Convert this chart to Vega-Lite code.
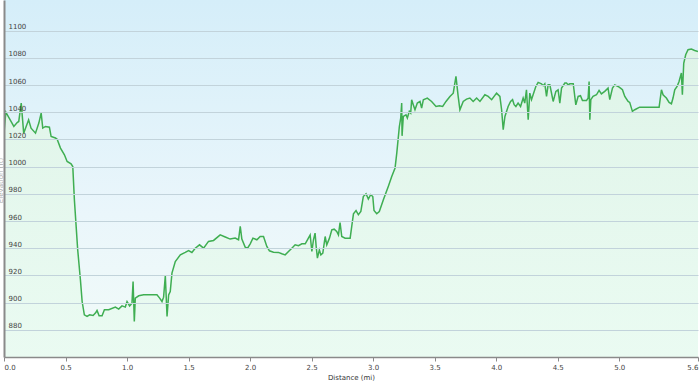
{
  "$schema": "https://vega.github.io/schema/vega-lite/v6.json",
  "autosize": {"type": "none"},
  "width": 694,
  "height": 357,
  "padding": {"left": 4, "top": 0, "right": 2, "bottom": 25},
  "background": "white",
  "config": {
    "font": "DejaVu Sans",
    "view": {
      "stroke": null,
      "fill": {"gradient": "linear", "x1": 0, "y1": 0, "x2": 0, "y2": 1,
        "stops": [{"offset": 0, "color": "#d5eef9"}, {"offset": 0.6, "color": "#eaf6fb"}, {"offset": 1, "color": "#f2fbf8"}]}
    }
  },
  "data": {"values": [
    {"d":0,"e":1024.8},{"d":0.015,"e":1040},{"d":0.08,"e":1029.5},{"d":0.107,"e":1032.4},{"d":0.12,"e":1033.2},{"d":0.14,"e":1046.7},{"d":0.16,"e":1024.6},{"d":0.2,"e":1034.4},{"d":0.22,"e":1028.2},{"d":0.256,"e":1024.6},{"d":0.283,"e":1032},{"d":0.302,"e":1039.3},{"d":0.315,"e":1028.3},{"d":0.337,"e":1029.5},{"d":0.369,"e":1029},{"d":0.383,"e":1022.1},{"d":0.418,"e":1021},{"d":0.432,"e":1020.2},{"d":0.459,"e":1013.6},{"d":0.491,"e":1008.7},{"d":0.513,"e":1003.8},{"d":0.545,"e":1002},{"d":0.559,"e":1000.1},{"d":0.572,"e":975.6},{"d":0.599,"e":938.8},{"d":0.621,"e":916.8},{"d":0.635,"e":900.8},{"d":0.653,"e":891},{"d":0.675,"e":889.8},{"d":0.696,"e":891},{"d":0.724,"e":890.5},{"d":0.743,"e":892.3},{"d":0.756,"e":894.2},{"d":0.773,"e":890.3},{"d":0.797,"e":890.3},{"d":0.816,"e":894.7},{"d":0.851,"e":894.7},{"d":0.905,"e":896.7},{"d":0.932,"e":895.2},{"d":0.959,"e":897.6},{"d":0.986,"e":896.7},{"d":1.0,"e":900.8},{"d":1.021,"e":897.6},{"d":1.04,"e":899.6},{"d":1.049,"e":915.5},{"d":1.059,"e":886.1},{"d":1.067,"e":903.3},{"d":1.095,"e":905},{"d":1.135,"e":905.7},{"d":1.189,"e":905.7},{"d":1.243,"e":905.7},{"d":1.265,"e":903.3},{"d":1.284,"e":900.8},{"d":1.297,"e":904},{"d":1.311,"e":919.7},{"d":1.325,"e":889.8},{"d":1.338,"e":905.7},{"d":1.351,"e":908.2},{"d":1.365,"e":921.7},{"d":1.392,"e":930.2},{"d":1.433,"e":935.1},{"d":1.473,"e":936.9},{"d":1.5,"e":938.3},{"d":1.527,"e":936.9},{"d":1.554,"e":940},{"d":1.589,"e":942.5},{"d":1.622,"e":940},{"d":1.662,"e":945},{"d":1.703,"e":945.7},{"d":1.757,"e":949.8},{"d":1.798,"e":948.2},{"d":1.838,"e":946.7},{"d":1.879,"e":947.4},{"d":1.906,"e":946.2},{"d":1.92,"e":956},{"d":1.933,"e":946.7},{"d":1.96,"e":940.8},{"d":1.979,"e":940},{"d":2.001,"e":943.2},{"d":2.023,"e":947.4},{"d":2.055,"e":946.2},{"d":2.082,"e":948.6},{"d":2.109,"e":948.6},{"d":2.136,"e":941.3},{"d":2.157,"e":938.1},{"d":2.19,"e":937.1},{"d":2.23,"e":936.9},{"d":2.258,"e":935.9},{"d":2.285,"e":935.1},{"d":2.312,"e":937.6},{"d":2.339,"e":940},{"d":2.366,"e":942.5},{"d":2.393,"e":941.8},{"d":2.421,"e":943.2},{"d":2.448,"e":943.2},{"d":2.466,"e":946.2},{"d":2.488,"e":949.8},{"d":2.502,"e":937.6},{"d":2.515,"e":946.2},{"d":2.528,"e":951.1},{"d":2.537,"e":941.3},{"d":2.547,"e":932.7},{"d":2.563,"e":938.8},{"d":2.575,"e":935.1},{"d":2.591,"e":936.4},{"d":2.61,"e":948.6},{"d":2.623,"e":942.5},{"d":2.645,"e":947.4},{"d":2.664,"e":953.5},{"d":2.683,"e":954},{"d":2.704,"e":952.3},{"d":2.718,"e":949.8},{"d":2.731,"e":958.9},{"d":2.745,"e":948.6},{"d":2.772,"e":947.4},{"d":2.813,"e":947.4},{"d":2.826,"e":956},{"d":2.84,"e":965.3},{"d":2.861,"e":967.7},{"d":2.88,"e":964.6},{"d":2.9,"e":967},{"d":2.92,"e":978},{"d":2.942,"e":980},{"d":2.961,"e":976.1},{"d":2.98,"e":979.3},{"d":2.997,"e":978},{"d":3.007,"e":967.7},{"d":3.029,"e":965.3},{"d":3.05,"e":967},{"d":3.083,"e":975.6},{"d":3.123,"e":985.4},{"d":3.151,"e":992.7},{"d":3.178,"e":998.9},{"d":3.192,"e":1009.9},{"d":3.213,"e":1029.5},{"d":3.224,"e":1035.7},{"d":3.232,"e":1046.7},{"d":3.235,"e":1022.6},{"d":3.245,"e":1036.9},{"d":3.267,"e":1038.1},{"d":3.278,"e":1035.7},{"d":3.294,"e":1040.6},{"d":3.305,"e":1039.4},{"d":3.313,"e":1049.2},{"d":3.326,"e":1045.5},{"d":3.34,"e":1041.8},{"d":3.359,"e":1046.7},{"d":3.381,"e":1047.9},{"d":3.394,"e":1043},{"d":3.408,"e":1049.2},{"d":3.44,"e":1050.4},{"d":3.475,"e":1047.9},{"d":3.511,"e":1044.2},{"d":3.538,"e":1044.7},{"d":3.565,"e":1044.2},{"d":3.592,"e":1047.9},{"d":3.624,"e":1051.6},{"d":3.651,"e":1054},{"d":3.673,"e":1066.3},{"d":3.691,"e":1051.6},{"d":3.705,"e":1041.8},{"d":3.732,"e":1047.9},{"d":3.759,"e":1049.6},{"d":3.786,"e":1050.4},{"d":3.813,"e":1047.9},{"d":3.841,"e":1050.4},{"d":3.868,"e":1047.9},{"d":3.908,"e":1052.8},{"d":3.935,"e":1051.6},{"d":3.963,"e":1049.2},{"d":4.003,"e":1054},{"d":4.03,"e":1051.6},{"d":4.044,"e":1041.8},{"d":4.057,"e":1027.1},{"d":4.071,"e":1036.9},{"d":4.097,"e":1044.2},{"d":4.117,"e":1047.9},{"d":4.133,"e":1049.2},{"d":4.146,"e":1045.5},{"d":4.16,"e":1044.2},{"d":4.178,"e":1046.7},{"d":4.198,"e":1044.2},{"d":4.219,"e":1050.4},{"d":4.232,"e":1046.7},{"d":4.246,"e":1056.5},{"d":4.26,"e":1034.4},{"d":4.273,"e":1054},{"d":4.287,"e":1049.2},{"d":4.3,"e":1052.8},{"d":4.322,"e":1058.9},{"d":4.341,"e":1061.9},{"d":4.368,"e":1060.9},{"d":4.382,"e":1059.5},{"d":4.395,"e":1060.9},{"d":4.409,"e":1051.6},{"d":4.422,"e":1060.1},{"d":4.436,"e":1060.1},{"d":4.463,"e":1047.9},{"d":4.485,"e":1055.3},{"d":4.503,"e":1056.5},{"d":4.517,"e":1046.7},{"d":4.531,"e":1057.7},{"d":4.558,"e":1061.4},{"d":4.571,"e":1061.4},{"d":4.585,"e":1060.1},{"d":4.598,"e":1060.9},{"d":4.626,"e":1060.9},{"d":4.647,"e":1045.4},{"d":4.666,"e":1051.6},{"d":4.685,"e":1052.1},{"d":4.701,"e":1048.6},{"d":4.734,"e":1048.6},{"d":4.747,"e":1050.4},{"d":4.755,"e":1062.6},{"d":4.761,"e":1034.4},{"d":4.769,"e":1049.2},{"d":4.787,"e":1051.6},{"d":4.815,"e":1052.8},{"d":4.836,"e":1056},{"d":4.855,"e":1053.5},{"d":4.882,"e":1055.3},{"d":4.909,"e":1057.7},{"d":4.923,"e":1049.2},{"d":4.945,"e":1057.7},{"d":4.963,"e":1060.1},{"d":4.991,"e":1058.9},{"d":5.01,"e":1057.7},{"d":5.026,"e":1056.5},{"d":5.045,"e":1051.6},{"d":5.072,"e":1047.9},{"d":5.085,"e":1047.2},{"d":5.107,"e":1040.6},{"d":5.126,"e":1041.8},{"d":5.166,"e":1043.7},{"d":5.221,"e":1043.7},{"d":5.275,"e":1043.7},{"d":5.324,"e":1043.7},{"d":5.343,"e":1056.5},{"d":5.356,"e":1052.8},{"d":5.37,"e":1051.6},{"d":5.383,"e":1050.4},{"d":5.405,"e":1047.2},{"d":5.424,"e":1046.2},{"d":5.437,"e":1050.4},{"d":5.451,"e":1056.5},{"d":5.47,"e":1058.9},{"d":5.486,"e":1062.6},{"d":5.505,"e":1068.8},{"d":5.513,"e":1052.8},{"d":5.524,"e":1076},{"d":5.54,"e":1082.2},{"d":5.559,"e":1085.9},{"d":5.586,"e":1086.4},{"d":5.613,"e":1085.4},{"d":5.64,"e":1084.6}
  ]},
  "encoding": {
    "x": {
      "field": "d", "type": "quantitative",
      "scale": {"domain": [0, 5.64], "nice": false, "zero": false},
      "axis": {
        "title": "Distance  (mi)",
        "values": [0, 0.5, 1, 1.5, 2, 2.5, 3, 3.5, 4, 4.5, 5, 5.64],
        "format": ".1f",
        "labelFlush": true,
        "grid": false,
        "zindex": 1,
        "domainColor": "#8a8a8a",
        "domainWidth": 1.5,
        "tickColor": "#8a8a8a",
        "tickSize": 4,
        "labelFontSize": 7,
        "labelColor": "#444444",
        "labelPadding": 2,
        "titleFontSize": 7,
        "titleFontWeight": "normal",
        "titleColor": "#333333",
        "titlePadding": 3
      }
    },
    "y": {
      "field": "e", "type": "quantitative",
      "scale": {"domain": [860, 1122.5], "nice": false, "zero": false},
      "axis": {
        "title": "Elevation (ft)",
        "titleX": -4,
        "titleY": 180,
        "titleAngle": -90,
        "titleAlign": "center",
        "titleBaseline": "middle",
        "titleFontSize": 7,
        "titleFontWeight": "normal",
        "titleColor": "#aaaaaa",
        "values": [880, 900, 920, 940, 960, 980, 1000, 1020, 1040, 1060, 1080, 1100],
        "format": "d",
        "zindex": 1,
        "ticks": false,
        "tickSize": 0,
        "labelAlign": "left",
        "labelBaseline": "alphabetic",
        "labelOffset": -2,
        "labelPadding": -4,
        "labelFontSize": 7,
        "labelColor": "#444444",
        "grid": true,
        "gridColor": "#c2d3db",
        "gridWidth": 1,
        "domainColor": "#8a8a8a",
        "domainWidth": 2
      }
    }
  },
  "layer": [
    {
      "mark": {"type": "area", "clip": true, "interpolate": "linear",
        "fill": {"gradient": "linear", "x1": 0, "y1": 0, "x2": 0, "y2": 1,
          "stops": [{"offset": 0, "color": "#e0f5e4"}, {"offset": 1, "color": "#e8fbf0"}]},
        "fillOpacity": 0.8},
      "encoding": {"y2": {"datum": 860}}
    },
    {
      "mark": {"type": "line", "clip": true, "color": "#3fae52", "strokeWidth": 1.5, "interpolate": "linear"},
      "encoding": {}
    }
  ]
}
